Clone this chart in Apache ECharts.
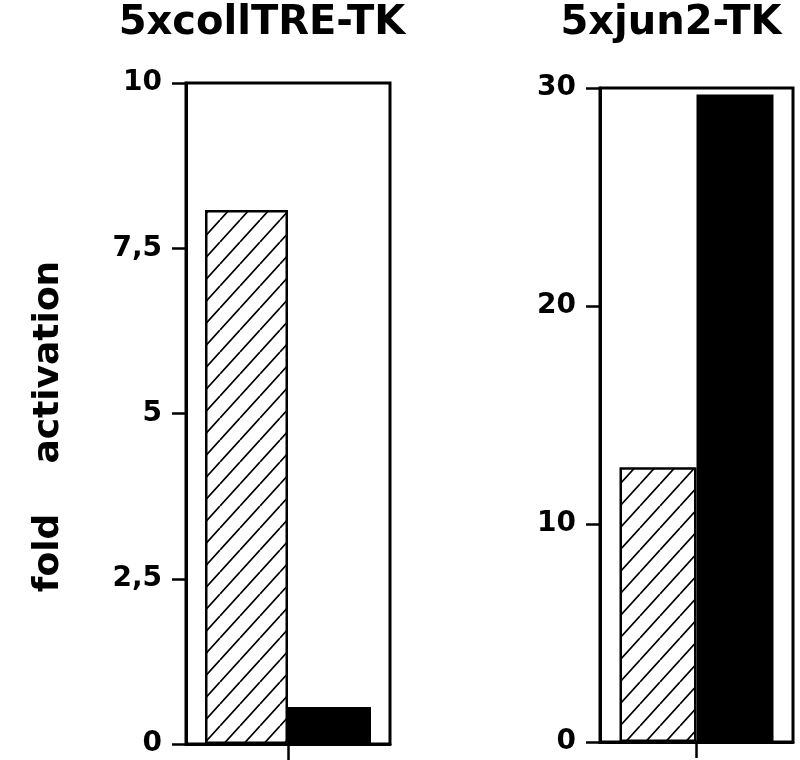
<!DOCTYPE html>
<html>
<head>
<meta charset="utf-8">
<script src="https://cdn.jsdelivr.net/npm/echarts@6/dist/echarts.min.js"></script>
<style>html,body{margin:0;padding:0;background:#fff}#c{width:800px;height:760px}</style>
</head>
<body>
<div id="c"></div>
<script>
// ---- data ----
const panelTitles = ['5xcollTRE-TK', '5xjun2-TK'];
const categories = [''];
const hatchedValues = [8.08, 12.6];   // left bar of each panel
const blackValues = [0.56, 29.7];     // right bar of each panel
const yMax = [10, 30];
const yInterval = [2.5, 10];
const yAxisName = 'fold    activation';

// ---- hatch pattern ----
function makeHatch() {
  const w = 20, h = 22;
  const cv = document.createElement('canvas');
  cv.width = w; cv.height = h;
  const ctx = cv.getContext('2d');
  ctx.fillStyle = '#fff';
  ctx.fillRect(0, 0, w, h);
  ctx.strokeStyle = '#000';
  ctx.lineWidth = 1.7;
  ctx.beginPath();
  ctx.moveTo(0, h); ctx.lineTo(w, 0);
  ctx.moveTo(-w, h); ctx.lineTo(0, 0);
  ctx.moveTo(w, h); ctx.lineTo(2 * w, 0);
  ctx.stroke();
  return cv;
}
const hatch = { image: makeHatch(), repeat: 'repeat' };

const font = 'DejaVu Sans';
const grids = [
  { left: 186, top: 83, width: 204, height: 661 },
  { left: 600, top: 88, width: 193, height: 654 }
];
const barWidths = [83, 77];

const chart = echarts.init(document.getElementById('c'), null, { renderer: 'canvas' });
const option = {
  backgroundColor: '#fff',
  animation: false,
  title: [
    { text: panelTitles[0], left: 257, top: -1, textAlign: 'center',
      textStyle: { fontFamily: font, fontWeight: 'bold', fontSize: 40, color: '#000' } },
    { text: panelTitles[1], left: 666, top: -1, textAlign: 'center',
      textStyle: { fontFamily: font, fontWeight: 'bold', fontSize: 40, color: '#000' } }
  ],
  grid: grids.map(g => Object.assign({ show: true, borderColor: '#000', borderWidth: 3, containLabel: false }, g)),
  xAxis: [0, 1].map(i => ({
    type: 'category', gridIndex: i, data: categories,
    axisLine: { lineStyle: { color: '#000', width: 3 } },
    axisTick: { show: true, alignWithLabel: true, length: 16, lineStyle: { color: '#000', width: 2.5 } },
    axisLabel: { show: false }
  })),
  yAxis: [0, 1].map(i => ({
    type: 'value', gridIndex: i, min: 0, max: yMax[i], interval: yInterval[i],
    name: i === 0 ? yAxisName : '',
    nameLocation: 'middle', nameRotate: 90, nameGap: 119,
    nameTextStyle: { fontFamily: font, fontWeight: 'bold', fontSize: 36, color: '#000', padding: [0, 26, 0, 0] },
    splitLine: { show: false },
    axisLine: { show: true, lineStyle: { color: '#000', width: 3 } },
    axisTick: { show: true, length: 14, lineStyle: { color: '#000', width: 2.5 } },
    axisLabel: {
      margin: 24, fontFamily: font, fontWeight: 'bold', fontSize: 28, color: '#000',
      formatter: v => String(v).replace('.', ',')
    }
  })),
  series: [0, 1].flatMap(i => ([
    { type: 'bar', xAxisIndex: i, yAxisIndex: i, data: [hatchedValues[i]],
      barWidth: barWidths[i], barGap: '0%',
      itemStyle: { color: hatch, borderColor: '#000', borderWidth: 2.5 } },
    { type: 'bar', xAxisIndex: i, yAxisIndex: i, data: [blackValues[i]],
      barWidth: barWidths[i], barGap: '0%',
      itemStyle: { color: '#000' } }
  ]))
};
chart.setOption(option);
</script>
</body>
</html>
